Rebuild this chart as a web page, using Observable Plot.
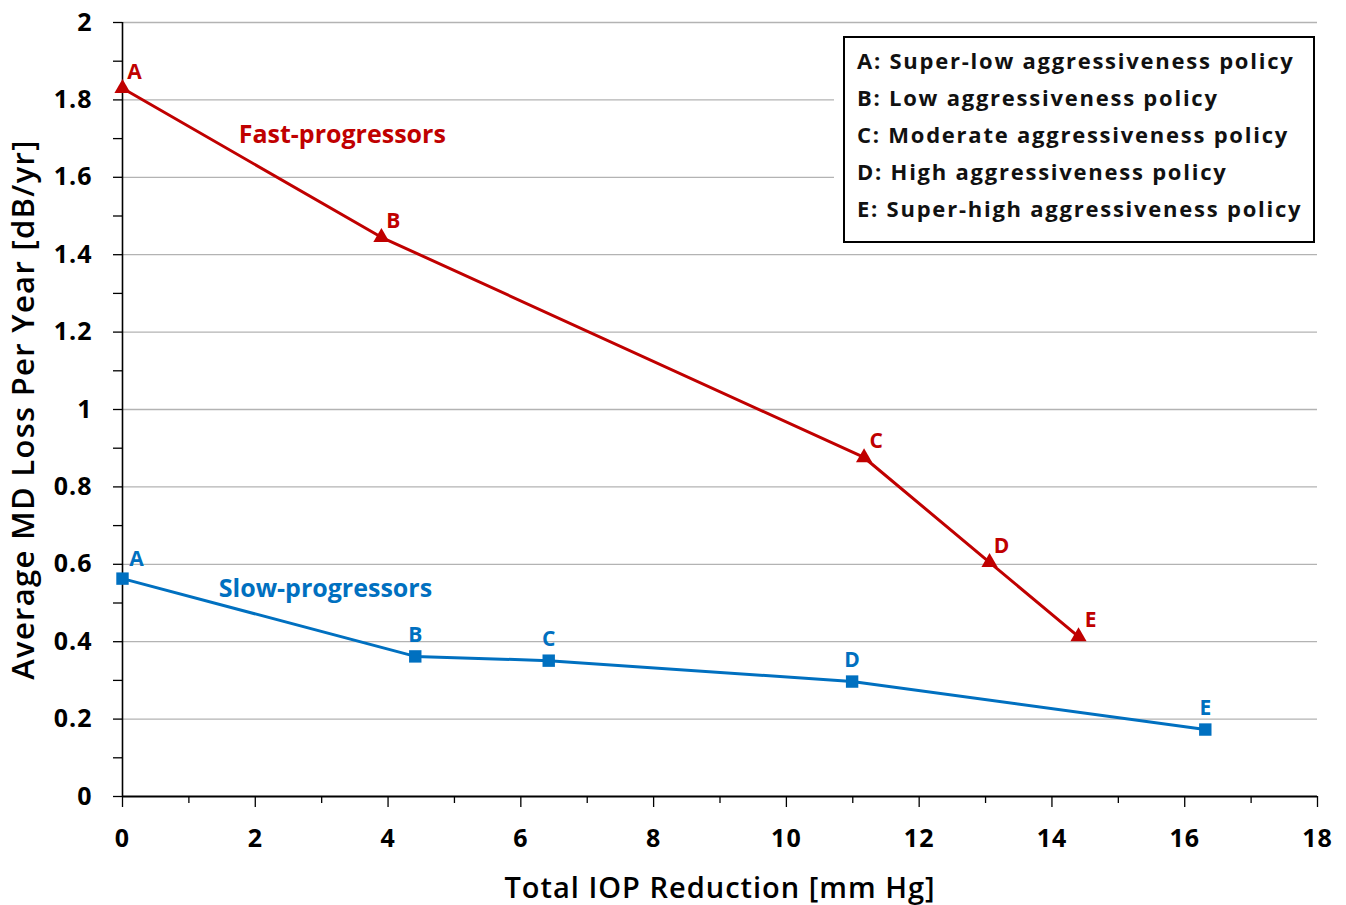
<!DOCTYPE html>
<html><head><meta charset="utf-8">
<script src="https://cdn.jsdelivr.net/npm/d3@7"></script>
<script src="https://cdn.jsdelivr.net/npm/@observablehq/plot@0.6"></script>
<style>
body{margin:0;background:#fff;}
#wrap{position:relative;width:1346px;height:905px;font-family:"Open Sans",Lato,sans-serif;}
#legend{position:absolute;left:843px;top:36px;width:456px;height:199px;border:2px solid #000;background:#fff;
  box-shadow:0 0 0 9px #fff;padding:4px 0 0 12px;font-size:22px;font-weight:bold;color:#111;letter-spacing:0.08em;}
#legend div{height:37px;line-height:37px;white-space:nowrap;}
</style>
</head><body>
<div id="wrap"><div id="chart"></div><div id="legend"></div></div>
<script>
const policies = ["A", "B", "C", "D", "E"];
const fastX = [0, 3.9, 11.17, 13.06, 14.4];
const fastY = [1.83, 1.445, 0.876, 0.605, 0.413];
const slowX = [0, 4.41, 6.42, 10.99, 16.31];
const slowY = [0.563, 0.362, 0.351, 0.297, 0.173];
const seriesNames = ["Fast-progressors", "Slow-progressors"];
const xTicks = [0, 2, 4, 6, 8, 10, 12, 14, 16, 18];
const xMinor = [1, 3, 5, 7, 9, 11, 13, 15, 17];
const yTicks = [0, 0.2, 0.4, 0.6, 0.8, 1, 1.2, 1.4, 1.6, 1.8, 2];
const yTickLabels = ["0", "0.2", "0.4", "0.6", "0.8", "1", "1.2", "1.4", "1.6", "1.8", "2"];
const yMinor = [0.1, 0.3, 0.5, 0.7, 0.9, 1.1, 1.3, 1.5, 1.7, 1.9];
const legendLines = [
  "A: Super-low aggressiveness policy",
  "B: Low aggressiveness policy",
  "C: Moderate aggressiveness policy",
  "D: High aggressiveness policy",
  "E: Super-high aggressiveness policy"
];
const xTitle = "Total IOP Reduction [mm Hg]";
const yTitle = "Average MD Loss Per Year [dB/yr]";

const RED = "#C00000", BLUE = "#0070C0";
const fast = policies.map((p, i) => ({p, x: fastX[i], y: fastY[i]}));
const slow = policies.map((p, i) => ({p, x: slowX[i], y: slowY[i]}));
const F = "'Open Sans', Lato, sans-serif";

const chart = Plot.plot({
  width: 1346, height: 905,
  marginLeft: 122, marginRight: 29, marginTop: 22, marginBottom: 109,
  style: {fontFamily: F, background: "#fff"},
  x: {domain: [0, 18]},
  y: {domain: [0, 2]},
  marks: [
    Plot.gridY(yTicks.filter(d => d > 0), {stroke: "#b3b3b3", strokeOpacity: 1, strokeWidth: 1.3}),
    Plot.axisY(yMinor, {tickSize: 9, tickFormat: () => "", label: null, stroke: "#000", strokeWidth: 1.3}),
    Plot.axisY(yTicks, {tickSize: 9, tickPadding: 21, tickFormat: d => yTickLabels[yTicks.indexOf(d)],
      fontSize: 25, fontWeight: "bold", fill: "#000", stroke: "#000", strokeWidth: 1.3, label: null}),
    Plot.axisY({label: yTitle, labelAnchor: "center", labelArrow: "none", labelOffset: 111, ticks: [],
      fontSize: 31, fontWeight: 600, fill: "#000"}),
    Plot.axisX(xMinor, {tickSize: 7, tickFormat: () => "", label: null, strokeWidth: 1.3}),
    Plot.axisX(xTicks, {tickSize: 11, tickPadding: 22, fontSize: 25, fontWeight: "bold", fill: "#000",
      strokeWidth: 1.3, label: null}),
    Plot.axisX({label: xTitle, labelAnchor: "center", labelArrow: "none", labelOffset: 101, ticks: [],
      fontSize: 29, fontWeight: 600, fill: "#000"}),
    Plot.ruleX([0], {stroke: "#000", strokeWidth: 1.6}),
    Plot.ruleY([0], {stroke: "#000", strokeWidth: 2, x1: 0, x2: 18}),
    Plot.line(slow, {x: "x", y: "y", stroke: BLUE, strokeWidth: 3}),
    Plot.line(fast, {x: "x", y: "y", stroke: RED, strokeWidth: 3}),
    Plot.dot(slow, {x: "x", y: "y", symbol: "square", fill: BLUE, r: 7}),
    Plot.dot(fast, {x: "x", y: "y", symbol: "triangle", fill: RED, r: 6}),
    Plot.text(fast, {x: "x", y: "y", text: "p", fill: RED, fontSize: 21, fontWeight: "bold", dx: 12, dy: -16}),
    Plot.text(slow.filter(d => d.x === 0), {x: "x", y: "y", text: "p", fill: BLUE, fontSize: 21, fontWeight: "bold", dx: 14, dy: -19}),
    Plot.text(slow.filter(d => d.x !== 0), {x: "x", y: "y", text: "p", fill: BLUE, fontSize: 21, fontWeight: "bold", dy: -21}),
    Plot.text([seriesNames[0]], {x: 1.75, y: 1.71, text: d => d, fill: RED, fontSize: 25, fontWeight: "bold", textAnchor: "start", ariaLabel: "series label"}),
    Plot.text([seriesNames[1]], {x: 1.45, y: 0.537, text: d => d, fill: BLUE, fontSize: 25, fontWeight: "bold", textAnchor: "start", ariaLabel: "series label"})
  ]
});
const sel = d3.select(chart);
sel.selectAll('g[aria-label="series label"] text').style("letter-spacing", "1.1px");
sel.selectAll('g[aria-label="y-axis tick label"] text, g[aria-label="x-axis tick label"] text').style("letter-spacing", "1px");
sel.selectAll('g[aria-label="y-axis label"] text').style("letter-spacing", "1.3px");
sel.selectAll('g[aria-label="x-axis label"] text').style("letter-spacing", "1px");
document.getElementById("chart").appendChild(chart);
const lg = document.getElementById("legend");
legendLines.forEach(t => { const d = document.createElement("div"); d.textContent = t; lg.appendChild(d); });
</script>
</body></html>
